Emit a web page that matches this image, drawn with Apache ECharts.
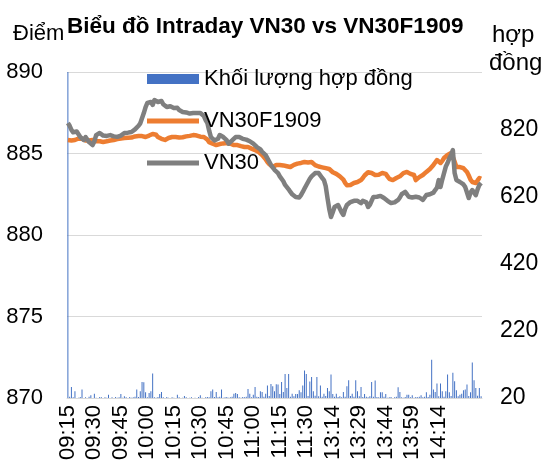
<!DOCTYPE html>
<html><head><meta charset="utf-8">
<script src="https://cdn.jsdelivr.net/npm/echarts@6/dist/echarts.min.js"></script>
<style>html,body{margin:0;padding:0;background:#fff}#c{width:550px;height:469px}</style>
</head><body><div id="c"></div>
<script>
// Trading sessions (minute categories)
const sessions = [["09:15","11:30"],["13:00","14:38"]];
const lastLabel = "14:14";
const titleText = "Biểu đồ Intraday VN30 vs VN30F1909";
const leftAxisName = "Điểm";
const rightAxisName = ["hợp", "đồng"];
const seriesNames = ["Khối lượng hợp đồng", "VN30F1909", "VN30"];

const vn30 = [
886.87,886.70,886.45,886.30,886.22,886.35,886.18,886.01,885.95,885.83,
886.01,885.90,885.70,885.60,885.52,885.75,886.13,886.05,886.26,886.20,
886.10,886.01,886.08,886.15,886.13,886.13,886.05,886.10,886.02,886.01,
886.10,886.20,886.26,886.18,886.28,886.32,886.32,886.40,886.48,886.56,
886.70,886.85,886.93,887.48,887.85,888.10,888.05,888.16,887.98,888.28,
888.20,888.16,888.10,888.22,888.02,887.95,887.85,887.91,887.90,887.85,
887.79,887.72,887.80,887.67,887.60,887.55,887.48,887.52,887.48,887.45,
887.50,887.48,887.42,887.48,887.50,887.48,887.40,887.30,887.05,886.87,
886.40,886.00,885.95,885.80,885.70,885.90,886.13,886.05,886.01,885.95,
885.80,885.60,885.65,885.80,885.90,886.01,886.05,886.01,885.95,885.90,
885.88,885.85,885.83,885.75,885.70,885.60,885.52,885.40,885.38,885.25,
885.10,885.03,884.90,884.70,884.50,884.29,884.15,884.00,883.90,883.80,
883.60,883.50,883.30,883.07,882.95,882.80,882.64,882.50,882.40,882.33,
882.27,882.30,882.45,882.64,882.85,883.05,883.25,883.45,883.60,883.68,
883.80,883.87,883.80,883.70,883.50,883.37,883.00,882.27,881.60,881.10,
881.40,881.72,881.60,881.84,881.80,881.40,881.23,881.60,881.84,881.95,
882.02,882.05,882.10,882.15,882.10,882.00,881.96,882.10,882.15,882.00,
881.72,881.85,882.10,882.33,882.25,882.35,882.45,882.40,882.30,882.27,
882.15,882.10,882.02,881.96,881.96,882.00,882.10,882.15,882.30,882.50,
882.60,882.64,882.50,882.35,882.27,882.30,882.40,882.35,882.33,882.30,
882.20,882.15,882.30,882.45,882.40,882.50,882.58,882.60,882.76,882.90,
883.37,882.94,883.40,883.80,884.20,884.42,884.70,884.91,885.21,883.80,
883.37,883.30,883.25,883.19,883.10,882.94,883.00,882.27,882.60,882.76,
882.60,882.45,882.80,883.07,883.19
];

const vn30f = [
885.83,885.83,885.80,885.85,885.83,885.90,885.92,885.95,885.90,885.85,
885.80,885.83,885.80,885.83,885.83,885.78,885.75,885.80,885.75,885.72,
885.71,885.71,885.75,885.77,885.80,885.83,885.83,885.85,885.88,885.90,
885.92,885.95,885.95,885.93,885.97,886.00,885.98,886.02,886.05,886.03,
886.07,886.05,886.07,886.05,886.01,886.05,886.10,886.13,886.20,886.26,
886.15,886.01,885.95,885.90,885.85,885.83,885.90,885.95,886.00,886.01,
886.01,886.01,886.03,885.98,886.01,886.00,886.01,886.05,886.03,886.08,
886.10,886.13,886.13,886.10,886.05,886.03,886.01,886.01,885.95,885.85,
885.70,885.64,885.60,885.55,885.52,885.55,885.58,885.64,885.62,885.64,
885.64,885.70,885.60,885.55,885.52,885.52,885.52,885.48,885.45,885.42,
885.40,885.40,885.40,885.35,885.30,885.25,885.21,885.15,885.10,885.03,
884.90,884.80,884.65,884.48,884.35,884.25,884.17,884.25,884.29,884.30,
884.29,884.25,884.27,884.20,884.22,884.20,884.17,884.25,884.30,884.35,
884.38,884.40,884.42,884.45,884.48,884.46,884.45,884.48,884.48,884.40,
884.29,884.25,884.20,884.17,884.15,884.12,884.10,884.11,884.05,883.95,
883.85,883.80,883.75,883.65,883.60,883.56,883.40,883.20,883.05,883.00,
883.07,883.10,883.19,883.22,883.25,883.30,883.37,883.50,883.65,883.75,
883.85,883.87,883.80,883.70,883.68,883.68,883.70,883.75,883.80,883.87,
883.75,883.60,883.45,883.37,883.37,883.45,883.50,883.55,883.60,883.70,
883.80,883.85,883.87,883.80,883.75,883.70,883.68,883.37,883.45,883.55,
883.65,883.68,883.75,883.87,883.95,884.05,884.17,884.30,884.45,884.60,
884.55,884.42,884.55,884.72,884.80,884.91,884.95,885.03,885.00,884.50,
884.17,884.17,884.17,884.15,884.10,884.00,883.87,883.65,883.40,883.25,
883.22,883.19,883.35,883.50,883.45
];

const volume = [
2500,24,53,22,40,18,21,23,45,19,
22,18,24,28,20,33,21,19,23,22,
18,22,21,30,19,22,20,23,21,22,
32,21,25,22,20,23,21,22,24,45,
23,40,68,67,37,22,35,40,93,22,
21,23,32,38,22,20,23,21,19,22,
21,20,30,22,19,21,26,22,20,21,
22,19,21,20,23,28,21,19,22,23,
22,40,45,23,38,22,24,45,21,22,
23,21,22,24,33,35,32,22,21,23,
22,24,47,33,22,30,53,24,23,40,
38,24,33,57,26,62,55,40,61,60,
32,68,38,92,50,92,24,33,25,32,
32,43,37,57,102,92,26,69,83,40,
27,83,25,57,24,33,26,50,40,90,
32,24,33,23,25,22,38,24,55,73,
26,33,24,73,40,25,53,23,32,24,
22,25,68,24,72,23,22,37,37,24,
32,21,22,23,20,22,24,52,38,22,
21,23,30,30,22,28,21,23,22,24,
28,22,24,37,23,30,134,45,38,63,
25,63,40,24,40,90,37,26,95,70,
43,25,30,33,43,45,60,26,37,126,
73,50,27,50,25
];

function minutes(s){const p=s.split(':');return +p[0]*60+ +p[1];}
function fmt(m){const h=Math.floor(m/60),mm=m%60;return (h<10?'0':'')+h+':'+(mm<10?'0':'')+mm;}
const categories = [];
sessions.forEach(([a,b])=>{for(let m=minutes(a);m<=minutes(b);m++)categories.push(fmt(m));});
const lastLabelIdx = categories.indexOf(lastLabel);

const FONT = "'Liberation Sans', Arial, sans-serif";
const lineIcon = 'path://M0,0 M52,10 M0,2.5 L52,2.5 L52,7.5 L0,7.5 Z';
const chart = echarts.init(document.getElementById('c'), null, {renderer:'canvas'});
chart.setOption({
  animation:false,
  backgroundColor:'#fff',
  textStyle:{fontFamily:FONT},
  title:{text:titleText,left:62,top:10,textStyle:{fontFamily:FONT,fontSize:22.5,fontWeight:'bold',color:'#000'}},
  graphic:[
    {type:'text',left:13,top:23,style:{text:leftAxisName,font:"22px 'Liberation Sans', Arial",fill:'#000'}},
    {type:'text',left:492,top:23,style:{text:rightAxisName[0],font:"24px 'Liberation Sans', Arial",fill:'#000'}},
    {type:'text',left:489,top:51,style:{text:rightAxisName[1],font:"24px 'Liberation Sans', Arial",fill:'#000'}}
  ],
  legend:{
    orient:'vertical',left:142,top:63,itemWidth:52,itemHeight:10,itemGap:20,
    textStyle:{fontFamily:FONT,fontSize:22,color:'#000'},
    data:[
      {name:seriesNames[0],icon:'rect'},
      {name:seriesNames[1],icon:lineIcon},
      {name:seriesNames[2],icon:lineIcon}
    ]
  },
  grid:{left:67,right:68,top:72,bottom:71,containLabel:false},
  xAxis:{
    type:'category',data:categories,boundaryGap:true,
    axisLine:{lineStyle:{color:'#D9D9D9',width:1}},
    axisTick:{show:false},
    axisLabel:{interval:function(i){return i%15===0 && i<=lastLabelIdx;},rotate:90,fontSize:22,color:'#000',margin:7,fontFamily:FONT,padding:[0,0,7,0]}
  },
  yAxis:[
    {type:'value',min:870,max:890,interval:5,
     axisLine:{show:false},axisTick:{show:false},
     axisLabel:{fontSize:22,color:'#000',margin:24,fontFamily:FONT},
     splitLine:{lineStyle:{color:'#D9D9D9',width:1}}},
    {type:'value',min:20,max:993,interval:200,
     axisLine:{show:false},axisTick:{show:false},
     axisLabel:{fontSize:23,color:'#000',margin:18,showMaxLabel:false,fontFamily:FONT},
     splitLine:{show:false}}
  ],
  series:[
    {name:seriesNames[0],type:'bar',yAxisIndex:1,data:volume,barWidth:1,
     itemStyle:{color:'#4472C4'},clip:true},
    {name:seriesNames[1],type:'line',yAxisIndex:0,data:vn30f,showSymbol:false,symbol:'none',
     lineStyle:{color:'#ED7D31',width:4.5,join:'round'},itemStyle:{color:'#ED7D31'}},
    {name:seriesNames[2],type:'line',yAxisIndex:0,data:vn30,showSymbol:false,symbol:'none',
     lineStyle:{color:'#7F7F7F',width:4.5,join:'round'},itemStyle:{color:'#7F7F7F'}}
  ]
});
</script></body></html>
